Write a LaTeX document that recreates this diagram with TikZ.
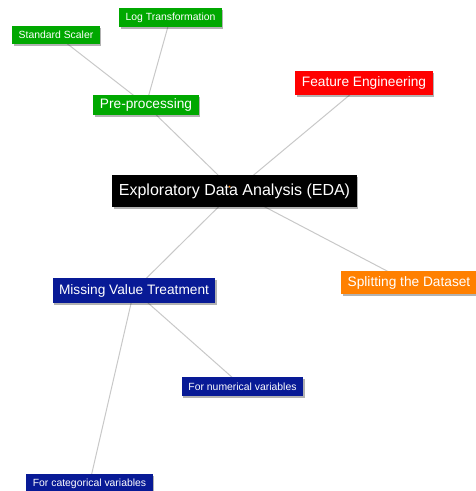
\documentclass[tikz,border=0pt]{standalone}
\usepackage{fontspec}
\setmainfont{Liberation Sans}
\usetikzlibrary{shadows,backgrounds}
\definecolor{mgreen}{RGB}{0,168,0}
\definecolor{mblue}{RGB}{8,26,150}
\definecolor{mred}{RGB}{255,0,0}
\definecolor{morange}{RGB}{255,128,0}
\definecolor{mline}{RGB}{200,200,200}
\tikzset{
  box/.style={rectangle, text=white, inner xsep=6.5pt, inner ysep=0pt,
    drop shadow={shadow xshift=1.5pt, shadow yshift=-1.5pt, fill=black, opacity=0.3}},
  big/.style={box, font=\fontsize{16}{18}\selectfont, minimum height=32pt},
  mid/.style={box, font=\fontsize{13.7}{16}\selectfont},
  small/.style={box, font=\fontsize{10.4}{12}\selectfont, minimum height=19pt},
  link/.style={draw=mline, line width=1pt}
}
\begin{document}
\begin{tikzpicture}[x=1pt,y=-1pt]
\useasboundingbox (0,0) rectangle (475,491);
% nodes
\node[big, fill=black] (eda) at (234.5,191) {Exploratory Data Analysis (EDA)};
\node[mid, fill=mgreen, minimum height=20pt] (pp) at (146,105) {Pre-processing};
\node[small, fill=mgreen, minimum height=18pt] (ss) at (56,35) {Standard Scaler};
\node[small, fill=mgreen] (lt) at (170.5,17.5) {Log Transformation};
\node[mid, fill=mred, minimum height=24pt] (fe) at (364,83) {Feature Engineering};
\node[mid, fill=morange, minimum height=23pt] (sd) at (409,282.5) {Splitting the Dataset};
\node[mid, fill=mblue, minimum height=25pt] (mvt) at (134,290.5) {Missing Value Treatment};
\node[small, fill=mblue] (num) at (242.5,386.5) {For numerical variables};
\node[small, fill=mblue] (cat) at (89.5,483.5) {For categorical variables};
\fill[morange] (229.5,186.5) circle (1pt);
% links (drawn behind nodes)
\begin{scope}[on background layer]
\draw[link] (eda.center) -- (pp.center);
\draw[link] (eda.center) -- (fe.center);
\draw[link] (eda.center) -- (sd.center);
\draw[link] (eda.center) -- (mvt.center);
\draw[link] (pp.center) -- (ss.center);
\draw[link] (pp.center) -- (lt.center);
\draw[link] (mvt.center) -- (num.center);
\draw[link] (mvt.center) -- (cat.center);
\end{scope}
\end{tikzpicture}
\end{document}
